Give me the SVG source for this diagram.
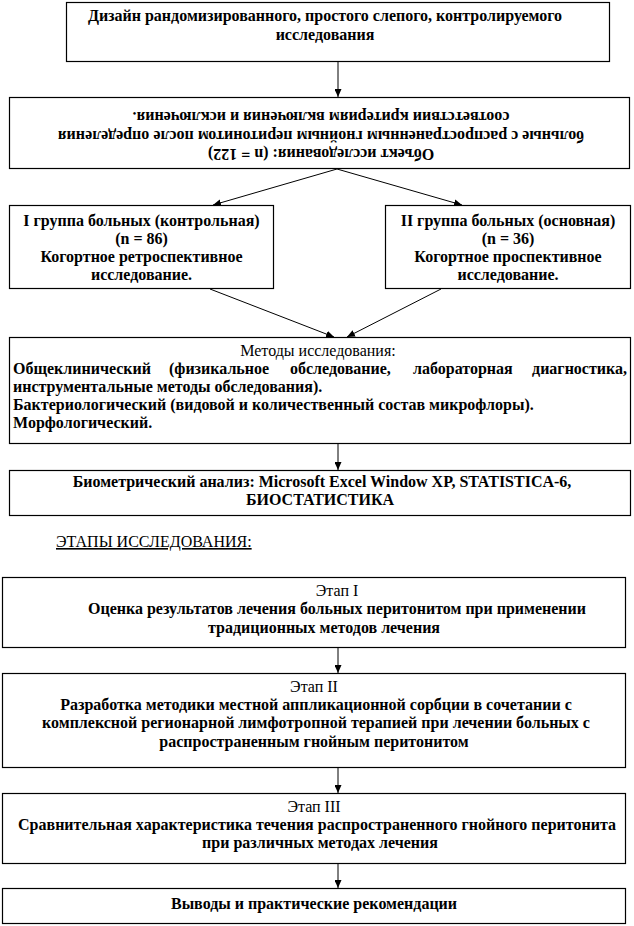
<svg xmlns="http://www.w3.org/2000/svg" width="634" height="926" viewBox="0 0 634 926">
<style>
.box{fill:#fff;stroke:#000;stroke-width:1.2}
text{font-family:"Liberation Serif","Times New Roman",serif;font-size:16px;fill:#000}
.b{font-weight:bold}
.c{text-anchor:middle}
.conn line{stroke:#000;stroke-width:1}
</style>
<defs>
<marker id="ah" markerUnits="userSpaceOnUse" markerWidth="8" markerHeight="7" refX="8" refY="3.5" orient="auto">
<path d="M0,0 L8,3.5 L0,7 z" fill="#000"/>
</marker>
</defs>
<rect width="634" height="926" fill="#fff"/>
<g id="design">
<rect class="box" x="66.5" y="2.5" width="543" height="59"/>
<text class="b c" x="325" y="21">Дизайн рандомизированного, простого слепого, контролируемого</text>
<text class="b c" x="325" y="40">исследования</text>
</g>
<g id="object">
<rect class="box" x="9.5" y="97.5" width="620" height="71"/>
<g transform="rotate(180 321 133)">
<text class="b c" x="321" y="117">Объект исследования: (n = 122)</text>
<text class="b c" x="321" y="135.5">больные с распространенным гнойным перитонитом после определения</text>
<text class="b c" x="321" y="154">соответствии критериям включения и исключения.</text>
</g>
</g>
<g id="group1">
<rect class="box" x="9.5" y="205.5" width="264" height="83"/>
<text class="b c" x="141.5" y="226">I группа больных (контрольная)</text>
<text class="b c" x="141.5" y="244">(n = 86)</text>
<text class="b c" x="141.5" y="262">Когортное ретроспективное</text>
<text class="b c" x="141.5" y="280">исследование.</text>
</g>
<g id="group2">
<rect class="box" x="385.5" y="205.5" width="245" height="83"/>
<text class="b c" x="508" y="226">II группа больных (основная)</text>
<text class="b c" x="508" y="244">(n = 36)</text>
<text class="b c" x="508" y="262">Когортное проспективное</text>
<text class="b c" x="508" y="280">исследование.</text>
</g>
<g id="methods">
<rect class="box" x="9.5" y="337.5" width="621" height="106"/>
<text class="c" x="318" y="356">Методы исследования:</text>
<text class="b" x="13" y="374">Общеклинический</text>
<text class="b" x="169" y="374">(физикальное</text>
<text class="b" x="290" y="374">обследование,</text>
<text class="b" x="413" y="374">лабораторная</text>
<text class="b" x="627" y="374" text-anchor="end">диагностика,</text>
<text class="b" x="13" y="392">инструментальные методы обследования).</text>
<text class="b" x="13" y="410">Бактериологический (видовой и количественный состав микрофлоры).</text>
<text class="b" x="13" y="428">Морфологический.</text>
</g>
<g id="biometric">
<rect class="box" x="9.5" y="470.5" width="621" height="45"/>
<text class="b c" x="322" y="487">Биометрический анализ: Microsoft Excel Window XP, STATISTICA-6,</text>
<text class="b c" x="320" y="505">БИОСТАТИСТИКА</text>
</g>
<g id="stages-title">
<text x="56" y="547" text-decoration="underline">ЭТАПЫ ИССЛЕДОВАНИЯ:</text>
</g>
<g id="stage1">
<rect class="box" x="2.5" y="577.5" width="623" height="70"/>
<text class="c" x="337" y="596">Этап I</text>
<text class="b c" x="337" y="614">Оценка результатов лечения больных перитонитом при применении</text>
<text class="b c" x="324" y="633">традиционных методов лечения</text>
</g>
<g id="stage2">
<rect class="box" x="2.5" y="673.5" width="623" height="94"/>
<text class="c" x="314" y="692">Этап II</text>
<text class="b c" x="316" y="710">Разработка методики местной аппликационной сорбции в сочетании с</text>
<text class="b c" x="316" y="728">комплексной регионарной лимфотропной терапией при лечении больных с</text>
<text class="b c" x="314" y="747">распространенным гнойным перитонитом</text>
</g>
<g id="stage3">
<rect class="box" x="2.5" y="793.5" width="623" height="70"/>
<text class="c" x="314" y="812">Этап III</text>
<text class="b c" x="317" y="830">Сравнительная характеристика течения распространенного гнойного перитонита</text>
<text class="b c" x="320" y="848">при различных методах лечения</text>
</g>
<g id="conclusions">
<rect class="box" x="2.5" y="888.5" width="623" height="35"/>
<text class="b c" x="314" y="909">Выводы и практические рекомендации</text>
</g>
<g class="conn" id="connectors">
<line x1="338" y1="62" x2="338" y2="97" marker-end="url(#ah)"/>
<line x1="337" y1="169" x2="213" y2="205" marker-end="url(#ah)"/>
<line x1="337" y1="169" x2="462" y2="205" marker-end="url(#ah)"/>
<line x1="210" y1="289" x2="334" y2="337" marker-end="url(#ah)"/>
<line x1="441" y1="289" x2="347" y2="337" marker-end="url(#ah)"/>
<line x1="338" y1="444" x2="338" y2="470" marker-end="url(#ah)"/>
<line x1="338" y1="648" x2="338" y2="673" marker-end="url(#ah)"/>
<line x1="338" y1="768" x2="338" y2="793" marker-end="url(#ah)"/>
<line x1="338" y1="864" x2="338" y2="888" marker-end="url(#ah)"/>
</g>
</svg>
